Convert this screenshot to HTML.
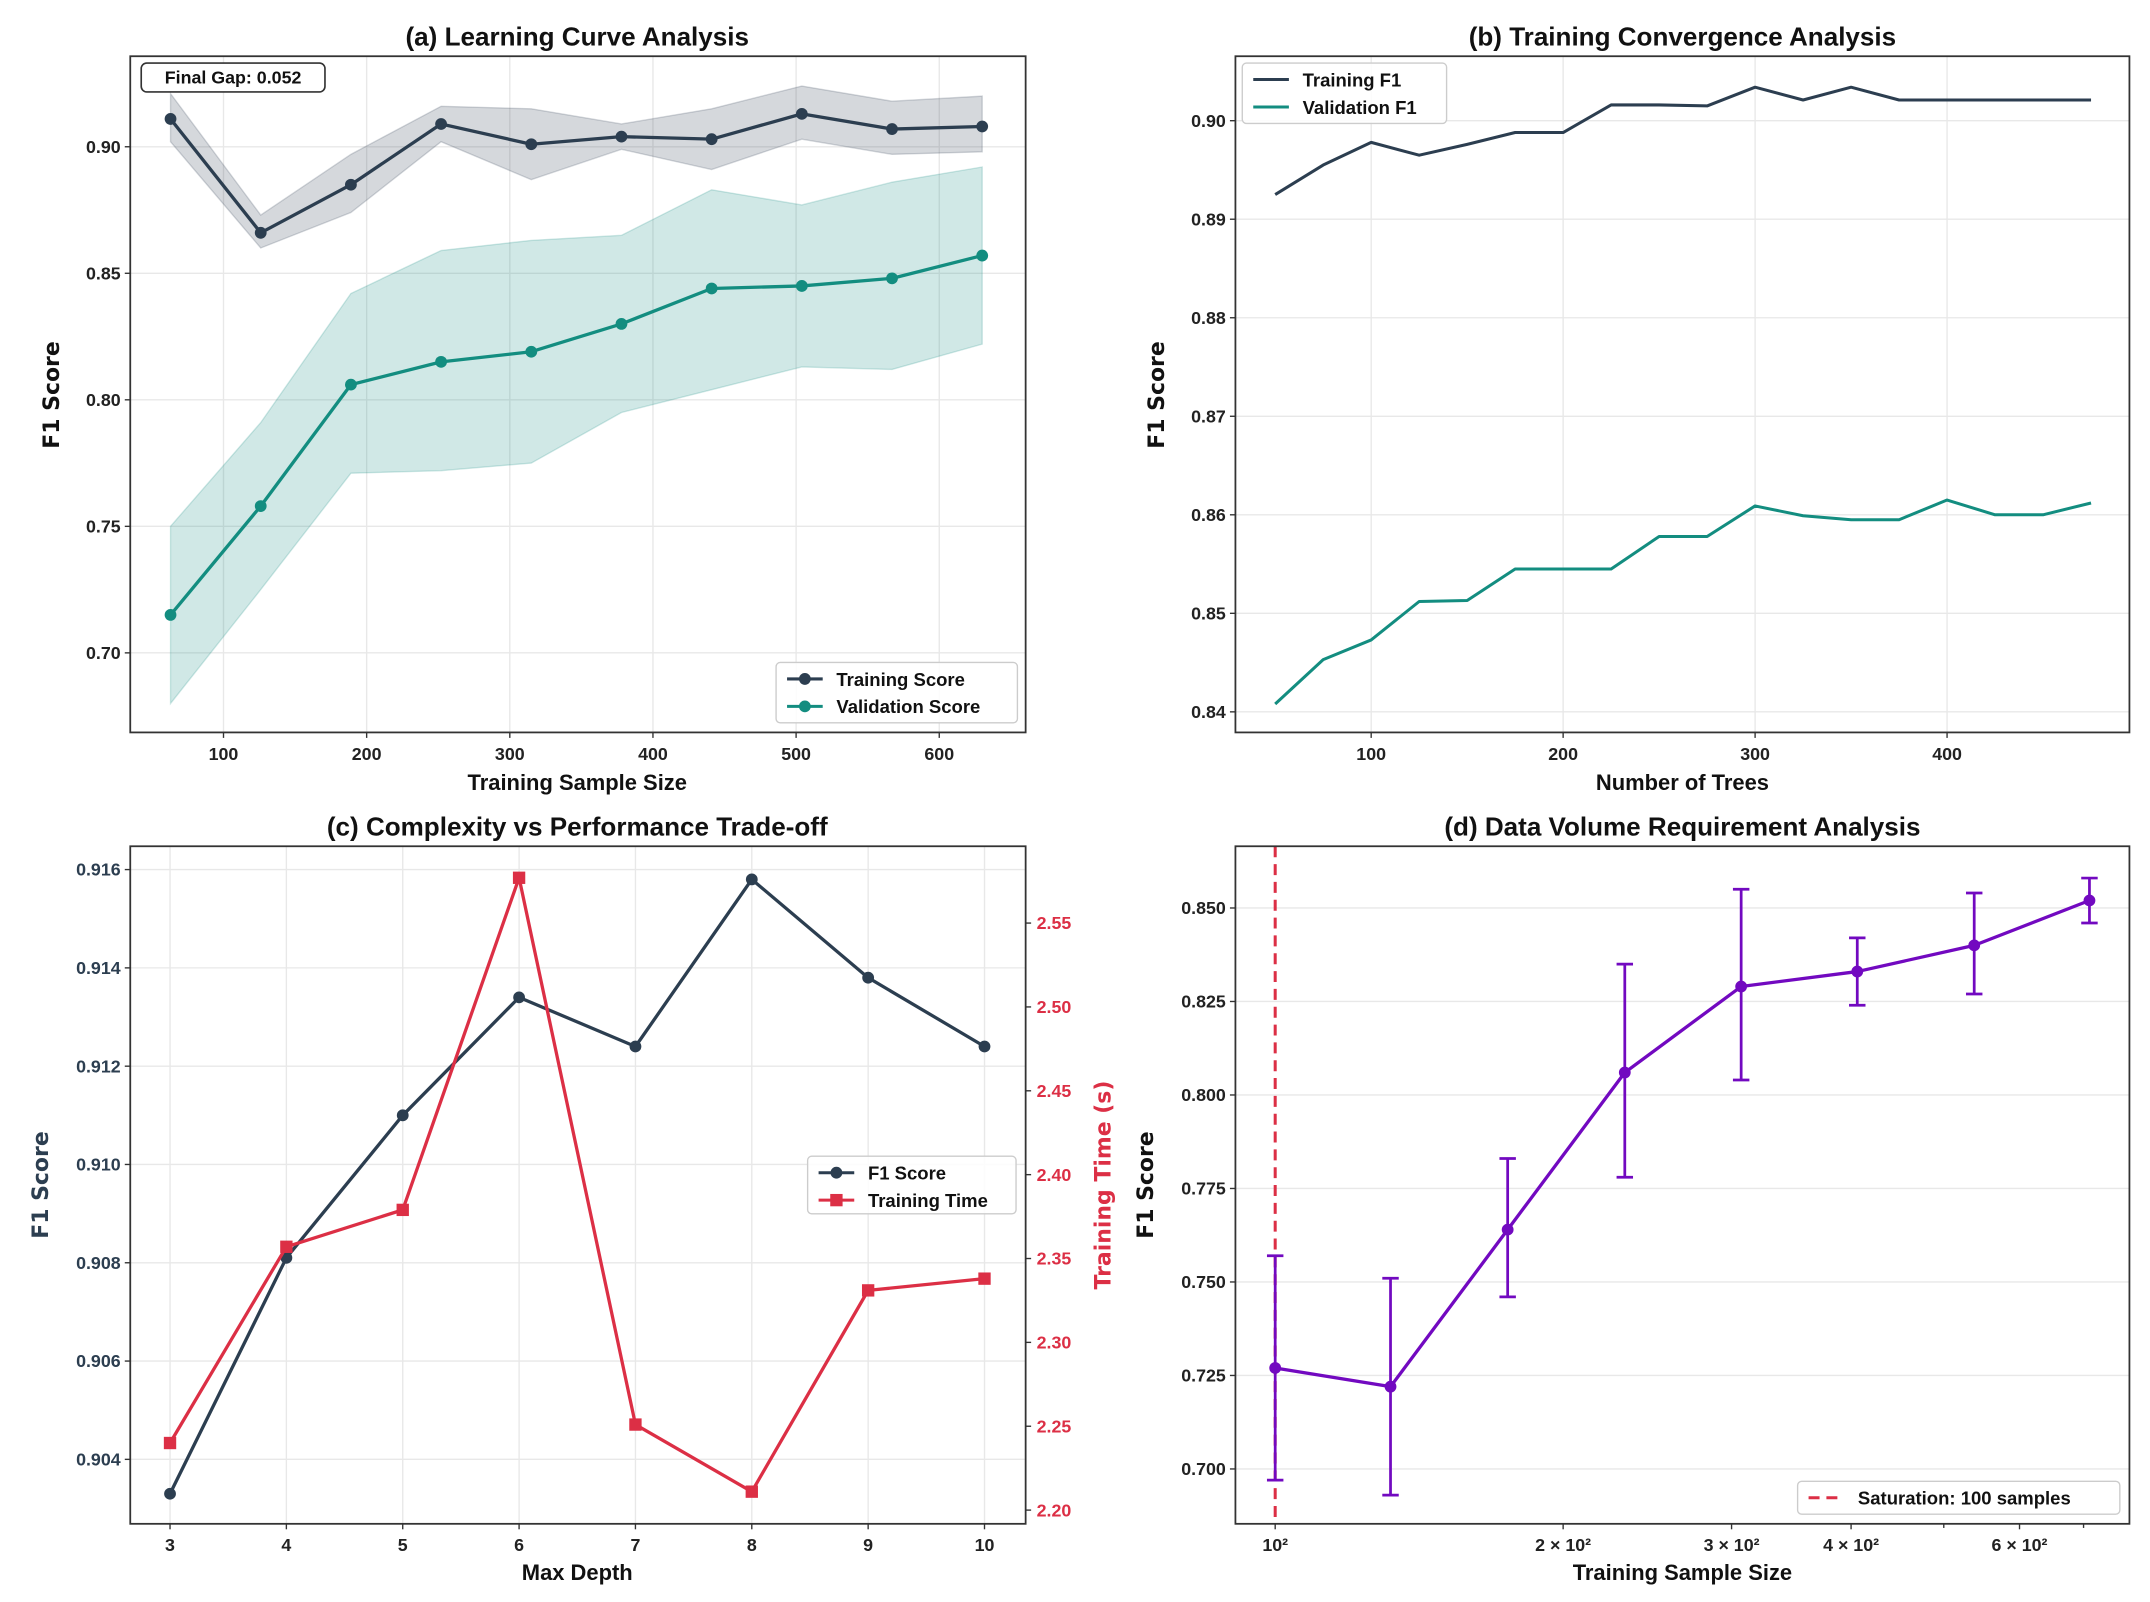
<!DOCTYPE html>
<html><head><meta charset="utf-8"><style>
html,body{margin:0;padding:0;background:#fff;}
svg{display:block;}
text{font-family:"Liberation Sans","DejaVu Sans",sans-serif;font-weight:bold;}
</style></head><body>
<svg id="fig" width="2150" height="1602" viewBox="0 0 1568 1168" preserveAspectRatio="none" xmlns="http://www.w3.org/2000/svg"></svg>
<script>
// ---- Panel (a) data ----
const aSizes=[63,126,189,252,315,378,441,504,567,630];
const aTrain=[0.911,0.866,0.885,0.909,0.901,0.904,0.903,0.913,0.907,0.908];
const aTrainHi=[0.921,0.873,0.897,0.916,0.915,0.909,0.915,0.924,0.918,0.920];
const aTrainLo=[0.902,0.860,0.874,0.902,0.887,0.899,0.891,0.903,0.897,0.898];
const aVal=[0.715,0.758,0.806,0.815,0.819,0.830,0.844,0.845,0.848,0.857];
const aValHi=[0.750,0.791,0.842,0.859,0.863,0.865,0.883,0.877,0.886,0.892];
const aValLo=[0.680,0.725,0.771,0.772,0.775,0.795,0.804,0.813,0.812,0.822];
const aXTicks=[100,200,300,400,500,600];
const aYTicks=[0.70,0.75,0.80,0.85,0.90];
// ---- Panel (b) data ----
const bTrees=[50,75,100,125,150,175,200,225,250,275,300,325,350,375,400,425,450,475];
const bTrain=[0.8925,0.8955,0.8978,0.8965,0.8976,0.8988,0.8988,0.9016,0.9016,0.9015,0.9034,0.9021,0.9034,0.9021,0.9021,0.9021,0.9021,0.9021];
const bVal=[0.8408,0.8453,0.8473,0.8512,0.8513,0.8545,0.8545,0.8545,0.8578,0.8578,0.8609,0.8599,0.8595,0.8595,0.8615,0.8600,0.8600,0.8612];
const bXTicks=[100,200,300,400];
const bYTicks=[0.84,0.85,0.86,0.87,0.88,0.89,0.90];
// ---- Panel (c) data ----
const cDepth=[3,4,5,6,7,8,9,10];
const cF1=[0.9033,0.9081,0.9110,0.9134,0.9124,0.9158,0.9138,0.9124];
const cTime=[2.240,2.357,2.379,2.577,2.251,2.211,2.331,2.338];
const cYTicks=[0.904,0.906,0.908,0.910,0.912,0.914,0.916];
const cY2Ticks=[2.20,2.25,2.30,2.35,2.40,2.45,2.50,2.55];
// ---- Panel (d) data ----
const dSizes=[100,132,175,232,307,406,538,710];
const dMean=[0.727,0.722,0.764,0.806,0.829,0.833,0.840,0.852];
const dHi=[0.757,0.751,0.783,0.835,0.855,0.842,0.854,0.858];
const dLo=[0.697,0.693,0.746,0.778,0.804,0.824,0.827,0.846];
const dYTicks=[0.700,0.725,0.750,0.775,0.800,0.825,0.850];
const dXTicks=[100,200,300,400,600];
const dXLabels=["10²","2 × 10²","3 × 10²","4 × 10²","6 × 10²"];
const dMinor=[500,700];
const saturation=100;

const NS="http://www.w3.org/2000/svg";
const svg=document.getElementById('fig');
function mk(tag,attrs,parent,txt){const e=document.createElementNS(NS,tag);for(const k in attrs)e.setAttribute(k,attrs[k]);if(txt!==undefined)e.textContent=txt;(parent||svg).appendChild(e);return e;}
function lin(d0,d1,r0,r1){return v=>r0+(v-d0)*(r1-r0)/(d1-d0);}
const DARK="#2c3e50",TEAL="#138d80",RED="#dc2f45",PURPLE="#7209c0",GRID="#e8e8e8";

function frame(g,x0,y0,x1,y1){
  const r=mk('rect',{x:x0,y:y0,width:x1-x0,height:y1-y0,fill:'none',stroke:'#333',"stroke-width":1.3},g);
  
  
}
function title(g,x,y,t){const e=mk('text',{x:x,y:y,"text-anchor":'middle',"font-size":19,fill:'#111'},g,t);
  }
function xlabel(g,x,y,t){const e=mk('text',{x:x,y:y,"text-anchor":'middle',"font-size":16,fill:'#111'},g,t);
  }
function ylabel(g,x,y,t,col){const e=mk('text',{x:x,y:y,"text-anchor":'middle',"font-size":16,fill:col||'#111',transform:`rotate(-90 ${x} ${y})`,style:'font-family:"DejaVu Sans",sans-serif'},g,t);
  }
function yticks(g,ticks,sy,x0,x1,fmt,col,grid){ticks.forEach(t=>{const y=sy(t);
  if(grid)mk('line',{x1:x0,x2:x1,y1:y,y2:y,stroke:GRID,"stroke-width":1},g);
  mk('line',{x1:x0-4,x2:x0,y1:y,y2:y,stroke:'#333'},g);
  const e=mk('text',{x:x0-7,y:y+4.5,"text-anchor":'end',"font-size":13,fill:col||'#222'},g,fmt(t));
  });}
function xticks(g,ticks,sx,y0,y1,labels,grid){ticks.forEach((t,i)=>{const x=sx(t);
  if(grid)mk('line',{x1:x,x2:x,y1:y0,y2:y1,stroke:GRID,"stroke-width":1},g);
  mk('line',{x1:x,x2:x,y1:y1,y2:y1+4,stroke:'#333'},g);
  const e=mk('text',{x:x,y:y1+20,"text-anchor":'middle',"font-size":13,fill:'#222'},g,labels?labels[i]:String(t));
  });}
function polyline(g,xs,ys,sx,sy,col,w,name){const p=mk('polyline',{points:xs.map((x,i)=>sx(x)+','+sy(ys[i])).join(' '),fill:'none',stroke:col,"stroke-width":w||2.2,"stroke-linejoin":'round'},g);
  return p;}
function band(g,xs,lo,hi,sx,sy,col,op,name){const pts=xs.map((x,i)=>sx(x)+','+sy(hi[i])).concat(xs.slice().reverse().map((x,j)=>{const i=xs.length-1-j;return sx(x)+','+sy(lo[i]);}));
  const p=mk('polygon',{points:pts.join(' '),fill:col,"fill-opacity":op,stroke:col,"stroke-opacity":op,"stroke-width":1},g);
  }
function dots(g,xs,ys,sx,sy,col,r,name){xs.forEach((x,i)=>{const c=mk('circle',{cx:sx(x),cy:sy(ys[i]),r:r||4.3,fill:col},g);
  });}
function squares(g,xs,ys,sx,sy,col,name){xs.forEach((x,i)=>{const c=mk('rect',{x:sx(x)-4.5,y:sy(ys[i])-4.5,width:9,height:9,fill:col},g);
  });}
function legend(g,x,y,w,h,items){const lg=mk('g',{},g);
  mk('rect',{x:x,y:y,width:w,height:h,rx:3,fill:'#fff',"fill-opacity":0.85,stroke:'#ccc'},lg);
  items.forEach((it,i)=>{const yy=y+12+i*20;const e=mk('g',{},lg);
    if(it.dash)mk('line',{x1:x+8,x2:x+34,y1:yy,y2:yy,stroke:it.col,"stroke-width":2.2,"stroke-dasharray":'8,5'},e);
    else mk('line',{x1:x+8,x2:x+34,y1:yy,y2:yy,stroke:it.col,"stroke-width":2.2},e);
    if(it.m==='o')mk('circle',{cx:x+21,cy:yy,r:4.3,fill:it.col},e);
    if(it.m==='s')mk('rect',{x:x+16.5,y:yy-4.5,width:9,height:9,fill:it.col},e);
    mk('text',{x:x+44,y:yy+5,"font-size":13.5,fill:'#111'},e,it.t);});}

// ===== Panel a =====
(function(){const g=mk('g',{});
  const X0=95,X1=748,Y0=41,Y1=534;
  const sx=lin(100,600,163,685), sy=lin(0.70,0.90,476,107);
  yticks(g,aYTicks,sy,X0,X1,v=>v.toFixed(2),'#222',true);
  xticks(g,aXTicks,sx,Y0,Y1,null,true);
  band(g,aSizes,aTrainLo,aTrainHi,sx,sy,DARK,0.2,'training-score-band');
  band(g,aSizes,aValLo,aValHi,sx,sy,TEAL,0.2,'validation-score-band');
  polyline(g,aSizes,aTrain,sx,sy,DARK,2.4,'training-score-line');dots(g,aSizes,aTrain,sx,sy,DARK,4.3,'training-score-point');
  polyline(g,aSizes,aVal,sx,sy,TEAL,2.4,'validation-score-line');dots(g,aSizes,aVal,sx,sy,TEAL,4.3,'validation-score-point');
  frame(g,X0,Y0,X1,Y1);
  title(g,421,33,'(a) Learning Curve Analysis');xlabel(g,421,576,'Training Sample Size');ylabel(g,43,288,'F1 Score');
  const gb=mk('g',{},g);
  mk('rect',{x:103,y:46,width:134,height:21,rx:4,fill:'#fff',stroke:'#333',"stroke-width":1.2},gb);
  mk('text',{x:170,y:61,"text-anchor":'middle',"font-size":13,fill:'#111'},gb,'Final Gap: 0.052');
  legend(g,566,483,176,44,[{t:'Training Score',col:DARK,m:'o'},{t:'Validation Score',col:TEAL,m:'o'}]);
})();
// ===== Panel b =====
(function(){const g=mk('g',{});
  const X0=901,X1=1553,Y0=41,Y1=534;
  const sx=lin(100,400,1000,1420), sy=lin(0.84,0.90,519,88);
  yticks(g,bYTicks,sy,X0,X1,v=>v.toFixed(2),'#222',true);
  xticks(g,bXTicks,sx,Y0,Y1,null,true);
  polyline(g,bTrees,bTrain,sx,sy,DARK,2.2,'training-f1-line');
  polyline(g,bTrees,bVal,sx,sy,TEAL,2.2,'validation-f1-line');
  frame(g,X0,Y0,X1,Y1);
  title(g,1227,33,'(b) Training Convergence Analysis');xlabel(g,1227,576,'Number of Trees');ylabel(g,849,288,'F1 Score');
  legend(g,906,46,149,44,[{t:'Training F1',col:DARK},{t:'Validation F1',col:TEAL}]);
})();
// ===== Panel c =====
(function(){const g=mk('g',{});
  const X0=95,X1=748,Y0=617,Y1=1111;
  const sx=lin(3,10,124,718), sy=lin(0.904,0.916,1064,634), sy2=lin(2.20,2.55,1101,673);
  yticks(g,cYTicks,sy,X0,X1,v=>v.toFixed(3),DARK,true);
  xticks(g,cDepth,sx,Y0,Y1,null,true);
  cY2Ticks.forEach(t=>{const y=sy2(t);mk('line',{x1:X1,x2:X1+4,y1:y,y2:y,stroke:'#333'},g);
    const e=mk('text',{x:X1+8,y:y+4.5,"font-size":13,fill:RED},g,t.toFixed(2));});
  polyline(g,cDepth,cF1,sx,sy,DARK,2.4,'f1-score-line');dots(g,cDepth,cF1,sx,sy,DARK,4.3,'f1-score-point');
  polyline(g,cDepth,cTime,sx,sy2,RED,2.4,'training-time-line');squares(g,cDepth,cTime,sx,sy2,RED,'training-time-point');
  frame(g,X0,Y0,X1,Y1);
  title(g,421,609,'(c) Complexity vs Performance Trade-off');xlabel(g,421,1152,'Max Depth');ylabel(g,35,864,'F1 Score',DARK);
  const e=mk('text',{x:810,y:864,"text-anchor":'middle',"font-size":16,fill:RED,transform:'rotate(-90 810 864)',style:'font-family:"DejaVu Sans",sans-serif'},g,'Training Time (s)');
  
  legend(g,589,843,152,42,[{t:'F1 Score',col:DARK,m:'o'},{t:'Training Time',col:RED,m:'s'}]);
})();
// ===== Panel d =====
(function(){const g=mk('g',{});
  const X0=901,X1=1553,Y0=617,Y1=1111;
  const lx=lin(2,Math.log10(200),930,1140); const sx=v=>lx(Math.log10(v)); const sy=lin(0.700,0.850,1071,662);
  yticks(g,dYTicks,sy,X0,X1,v=>v.toFixed(3),'#222',true);
  xticks(g,dXTicks,sx,Y0,Y1,dXLabels,false);
  dMinor.forEach(t=>mk('line',{x1:sx(t),x2:sx(t),y1:Y1,y2:Y1+3,stroke:'#333'},g));
  const sl=mk('line',{x1:sx(saturation),x2:sx(saturation),y1:Y0,y2:Y1,stroke:RED,"stroke-width":2.2,"stroke-dasharray":'8,5'},g);
  
  dSizes.forEach((s,i)=>{const x=sx(s);const eb=mk('g',{},g);
    mk('line',{x1:x,x2:x,y1:sy(dLo[i]),y2:sy(dHi[i]),stroke:PURPLE,"stroke-width":2},eb);
    mk('line',{x1:x-6,x2:x+6,y1:sy(dLo[i]),y2:sy(dLo[i]),stroke:PURPLE,"stroke-width":2},eb);
    mk('line',{x1:x-6,x2:x+6,y1:sy(dHi[i]),y2:sy(dHi[i]),stroke:PURPLE,"stroke-width":2},eb);});
  polyline(g,dSizes,dMean,sx,sy,PURPLE,2.4,'f1-mean-line');dots(g,dSizes,dMean,sx,sy,PURPLE,4.3,'f1-mean-point');
  frame(g,X0,Y0,X1,Y1);
  title(g,1227,609,'(d) Data Volume Requirement Analysis');xlabel(g,1227,1152,'Training Sample Size');ylabel(g,841,864,'F1 Score');
  legend(g,1311,1080,235,24,[{t:'Saturation: 100 samples',col:RED,dash:true}]);
})();
</script>
</body></html>
